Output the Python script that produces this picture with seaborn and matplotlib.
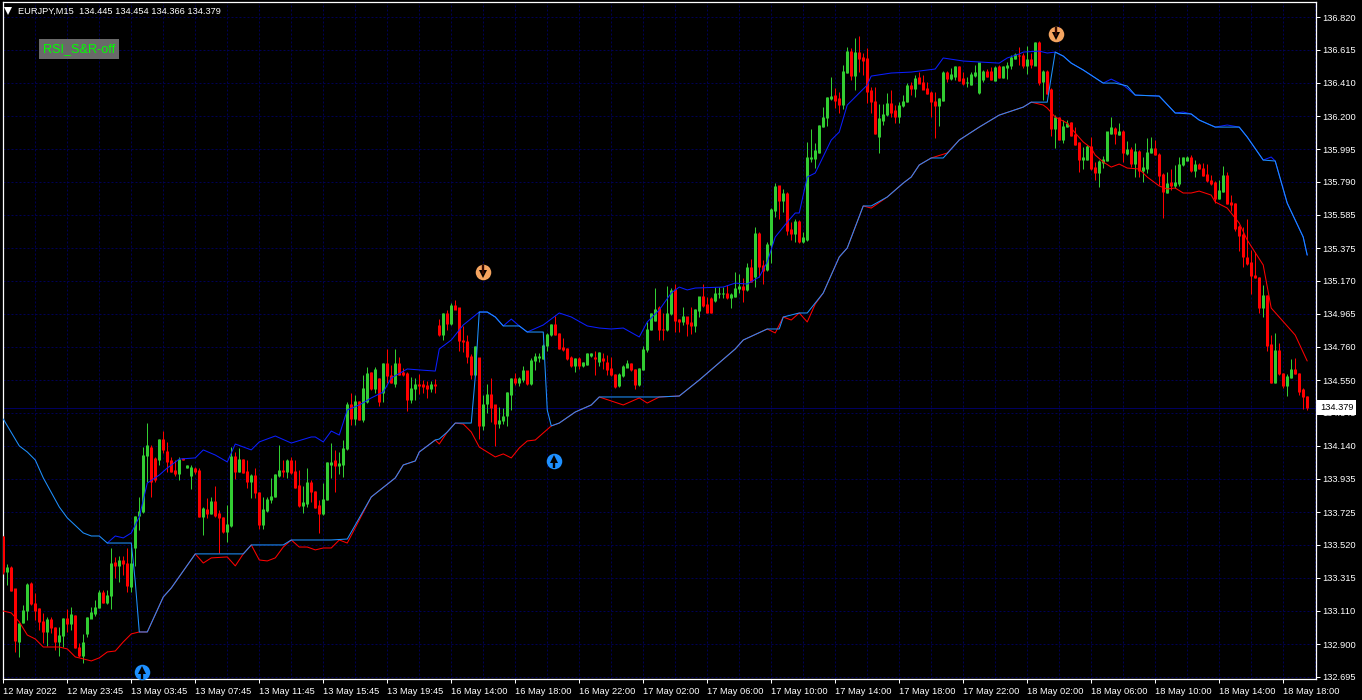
import numpy as np
import pandas as pd
import matplotlib
matplotlib.use('Agg')
import matplotlib.pyplot as plt
import seaborn as sns

# OHLC of the M15 bars
opens = [133.576,133.353,133.382,133.245,132.916,133.034,133.109,133.276,133.155,133.120,133.041,132.978,133.055,133.005,132.916,132.953,133.061,133.026,133.082,132.880,
132.826,132.964,133.061,133.093,133.130,133.220,133.159,133.203,133.409,133.391,133.426,133.405,133.263,133.503,133.701,133.732,134.076,134.132,134.061,134.051,
134.180,134.107,134.045,133.988,133.968,134.059,134.003,133.951,133.999,133.988,133.697,133.739,133.718,133.791,133.714,133.693,133.603,133.639,134.076,133.982,
134.057,133.982,133.916,133.957,133.851,133.645,133.734,133.801,133.822,133.957,133.988,133.978,134.045,133.978,133.889,133.766,133.780,133.911,133.857,133.768,
133.714,133.805,134.020,134.045,134.016,134.020,134.124,134.395,134.312,134.416,134.306,134.416,134.601,134.499,134.558,134.474,134.656,134.577,134.531,134.656,
134.595,134.593,134.427,134.495,134.524,134.520,134.514,134.495,134.524,134.895,134.833,134.968,134.906,135.016,135.004,134.801,134.795,134.697,134.583,134.691,
134.266,134.402,134.458,134.395,134.277,134.295,134.326,134.458,134.562,134.537,134.552,134.608,134.531,134.672,134.693,134.687,134.764,134.833,134.901,134.839,
134.754,134.747,134.693,134.639,134.685,134.639,134.649,134.701,134.693,134.664,134.683,134.662,134.620,134.587,134.514,134.577,134.631,134.656,134.614,134.520,
134.618,134.739,134.864,134.926,135.004,134.870,134.864,134.964,135.114,134.931,134.916,134.947,134.910,134.889,134.985,135.072,135.026,135.058,135.051,135.091,
135.091,135.095,135.068,135.076,135.122,135.135,135.114,135.253,135.197,135.470,135.264,135.239,135.395,135.608,135.764,135.676,135.716,135.489,135.468,135.541,
135.416,135.431,135.935,135.933,135.972,136.135,136.191,136.310,136.329,136.308,136.276,136.476,136.606,136.454,136.601,136.568,136.558,136.358,136.295,136.076,
136.176,136.208,136.281,136.233,136.201,136.264,136.291,136.395,136.376,136.443,136.410,136.374,136.351,136.295,136.268,136.301,136.472,136.437,136.451,136.510,
136.433,136.410,136.401,136.454,136.347,136.430,136.482,136.478,136.426,136.509,136.443,136.505,136.514,136.561,136.582,136.582,136.520,136.557,136.520,136.659,
136.416,136.478,136.370,136.120,136.193,136.057,136.134,136.161,136.088,136.034,135.930,135.930,136.009,135.878,135.847,135.909,135.926,136.093,136.124,136.088,
136.107,135.968,135.993,135.905,135.982,135.863,135.870,135.972,135.999,135.963,135.838,135.724,135.786,135.765,135.780,135.895,135.926,135.945,135.859,135.901,
135.874,135.838,135.801,135.784,135.686,135.732,135.828,135.661,135.653,135.509,135.463,135.318,135.286,135.207,135.193,135.005,135.082,134.770,134.534,134.738,
134.593,134.516,134.566,134.618,134.593,134.493,134.445]
highs = [133.576,133.399,133.391,133.245,133.030,133.145,133.280,133.286,133.218,133.124,133.093,133.072,133.072,133.009,133.009,133.061,133.118,133.130,133.082,132.905,
132.961,133.072,133.130,133.176,133.238,133.238,133.238,133.499,133.447,133.453,133.453,133.499,133.509,133.701,133.818,134.134,134.280,134.145,134.072,134.182,
134.232,134.166,134.072,134.051,134.072,134.063,134.018,134.020,134.009,133.999,133.759,133.811,133.822,133.889,133.739,133.693,133.770,134.134,134.103,134.124,
134.057,134.051,133.963,133.999,133.853,133.822,133.822,133.936,133.963,134.145,134.051,134.055,134.068,134.051,133.988,133.889,134.003,133.926,133.857,133.801,
133.905,134.041,134.155,134.114,134.103,134.176,134.416,134.468,134.458,134.422,134.583,134.631,134.604,134.631,134.562,134.656,134.745,134.645,134.743,134.693,
134.624,134.604,134.572,134.562,134.589,134.552,134.547,134.547,134.556,134.933,134.968,134.989,135.035,135.052,135.004,134.889,134.833,134.712,134.764,134.691,
134.458,134.524,134.562,134.395,134.385,134.379,134.479,134.562,134.593,134.568,134.639,134.608,134.687,134.718,134.722,134.774,134.843,134.901,134.954,134.843,
134.812,134.754,134.701,134.687,134.697,134.666,134.718,134.722,134.733,134.729,134.718,134.708,134.697,134.587,134.593,134.645,134.676,134.660,134.618,134.627,
134.764,134.916,134.968,135.124,135.014,134.968,135.139,135.124,135.151,134.931,135.010,134.947,135.010,134.993,135.072,135.151,135.072,135.072,135.135,135.131,
135.131,135.145,135.093,135.228,135.214,135.187,135.281,135.306,135.510,135.478,135.301,135.416,135.624,135.781,135.764,135.743,135.729,135.541,135.558,135.551,
135.479,136.041,136.120,136.031,136.145,136.256,136.322,136.443,136.374,136.354,136.520,136.631,136.624,136.687,136.701,136.593,136.624,136.385,136.381,136.276,
136.276,136.343,136.364,136.270,136.291,136.333,136.410,136.416,136.458,136.479,136.458,136.416,136.358,136.354,136.316,136.485,136.485,136.499,136.514,136.514,
136.479,136.447,136.479,136.520,136.533,136.489,136.493,136.509,136.514,136.520,136.514,136.541,136.582,136.593,136.634,136.593,136.639,136.597,136.666,136.670,
136.489,136.489,136.374,136.207,136.197,136.176,136.176,136.166,136.134,136.041,136.009,136.020,136.072,135.916,135.926,135.951,136.103,136.197,136.134,136.155,
136.114,136.047,136.009,136.034,135.989,135.947,136.061,136.068,136.051,135.968,135.842,135.853,135.870,135.895,135.943,135.947,135.951,135.957,135.926,135.909,
135.905,135.901,135.832,135.797,135.801,135.889,135.853,135.707,135.655,135.520,135.505,135.557,135.364,135.353,135.197,135.145,135.082,134.832,134.847,134.784,
134.597,134.589,134.682,134.686,134.593,134.499,134.454]
lows = [133.340,133.270,133.234,132.853,132.822,133.030,133.051,133.145,133.051,132.988,132.905,132.888,132.968,132.864,132.826,132.884,132.978,132.988,132.878,132.818,
132.784,132.947,133.061,133.076,133.124,133.155,133.151,133.118,133.311,133.291,133.332,133.228,133.228,133.391,133.614,133.718,133.916,133.822,133.916,134.020,
134.093,133.978,133.978,133.951,133.926,134.051,134.000,133.870,133.963,133.697,133.582,133.686,133.714,133.697,133.472,133.597,133.541,133.634,133.930,133.978,
133.972,133.874,133.811,133.811,133.618,133.618,133.728,133.780,133.818,133.943,133.947,133.936,133.963,133.874,133.759,133.722,133.755,133.791,133.749,133.597,
133.707,133.801,133.936,133.853,133.963,133.943,134.114,134.270,134.270,134.301,134.291,134.406,134.489,134.468,134.389,134.416,134.531,134.531,134.510,134.583,
134.577,134.358,134.410,134.427,134.464,134.468,134.441,134.479,134.472,134.827,134.801,134.864,134.895,134.993,134.733,134.729,134.660,134.556,134.577,134.183,
134.239,134.343,134.291,134.141,134.249,134.274,134.266,134.364,134.520,134.516,134.541,134.520,134.520,134.614,134.666,134.683,134.733,134.827,134.833,134.743,
134.735,134.677,134.635,134.604,134.618,134.635,134.645,134.697,134.583,134.639,134.618,134.583,134.577,134.504,134.510,134.572,134.631,134.610,134.493,134.516,
134.614,134.729,134.864,134.920,134.801,134.801,134.860,134.958,134.854,134.854,134.895,134.826,134.839,134.854,134.947,135.010,134.972,134.972,135.041,135.062,
135.062,135.060,135.004,135.072,135.093,135.041,135.110,135.166,135.135,135.197,135.151,135.235,135.285,135.572,135.558,135.604,135.458,135.426,135.416,135.410,
135.410,135.422,135.916,135.874,135.968,136.135,136.141,136.301,136.249,136.218,136.245,136.472,136.426,136.364,136.479,136.458,136.281,136.222,136.089,135.972,
136.145,136.201,136.193,136.156,136.156,136.260,136.287,136.333,136.322,136.406,136.368,136.339,136.197,136.066,136.139,136.297,136.416,136.426,136.426,136.422,
136.395,136.381,136.395,136.447,136.340,136.416,136.447,136.426,136.422,136.439,136.436,136.430,136.493,136.555,136.520,136.503,136.463,136.499,136.520,136.395,
136.301,136.339,136.078,136.003,136.051,136.030,136.130,136.076,136.020,135.853,135.870,135.926,135.864,135.801,135.759,135.874,135.922,136.088,136.026,136.082,
135.916,135.957,135.884,135.822,135.822,135.786,135.843,135.968,135.957,135.770,135.566,135.718,135.739,135.749,135.765,135.891,135.920,135.849,135.818,135.868,
135.828,135.791,135.770,135.659,135.682,135.728,135.651,135.609,135.484,135.359,135.255,135.270,135.089,135.186,134.972,134.947,134.734,134.530,134.530,134.582,
134.503,134.451,134.561,134.589,134.457,134.368,134.366]
closes = [133.353,133.378,133.234,132.922,133.030,133.113,133.270,133.151,133.113,133.041,132.978,133.057,133.003,132.916,132.957,133.061,133.026,133.086,132.878,132.826,
132.911,133.066,133.099,133.132,133.220,133.161,133.205,133.407,133.391,133.426,133.405,133.266,133.405,133.701,133.732,134.082,134.139,133.916,133.932,134.180,
134.114,134.041,133.982,133.968,134.055,134.051,134.018,134.003,133.978,133.697,133.745,133.718,133.791,133.707,133.693,133.603,133.645,134.076,133.978,134.057,
133.972,133.916,133.957,133.847,133.647,133.739,133.805,133.826,133.963,133.988,133.978,134.045,133.972,133.878,133.766,133.788,133.911,133.853,133.755,133.714,
133.807,134.034,134.034,134.016,134.030,134.124,134.395,134.312,134.416,134.306,134.499,134.593,134.499,134.614,134.416,134.656,134.577,134.535,134.656,134.587,
134.583,134.431,134.499,134.526,134.516,134.510,134.497,134.524,134.518,134.833,134.968,134.906,135.016,134.993,134.795,134.789,134.697,134.583,134.760,134.266,
134.399,134.458,134.381,134.277,134.301,134.326,134.472,134.562,134.537,134.558,134.608,134.531,134.676,134.697,134.697,134.766,134.837,134.901,134.833,134.749,
134.743,134.687,134.639,134.685,134.639,134.662,134.714,134.716,134.687,134.722,134.672,134.618,134.583,134.510,134.587,134.635,134.656,134.614,134.520,134.622,
134.739,134.870,134.964,134.995,134.864,134.864,134.964,135.110,134.920,134.916,134.947,134.906,134.889,134.989,135.072,135.018,134.976,134.976,135.093,135.095,
135.093,135.064,135.083,135.124,135.135,135.114,135.253,135.166,135.470,135.260,135.235,135.401,135.620,135.760,135.676,135.716,135.483,135.468,135.541,135.416,
135.439,135.939,135.939,135.983,136.143,136.193,136.316,136.326,136.297,136.276,136.481,136.606,136.454,136.601,136.562,136.551,136.354,136.291,136.089,136.183,
136.214,136.281,136.226,136.201,136.270,136.295,136.395,136.376,136.437,136.406,136.370,136.343,136.289,136.264,136.310,136.476,136.437,136.458,136.508,136.426,
136.406,136.414,136.458,136.472,136.533,136.478,136.451,136.430,136.505,136.443,136.509,136.516,136.568,136.586,136.578,136.520,136.557,136.524,136.659,136.411,
136.478,136.343,136.120,136.193,136.057,136.134,136.155,136.078,136.026,135.930,135.943,136.009,135.870,135.847,135.916,135.930,136.103,136.128,136.093,136.103,
135.972,135.993,135.905,135.982,135.863,135.878,135.972,135.999,135.961,135.832,135.728,135.780,135.765,135.784,135.901,135.941,135.945,135.863,135.901,135.870,
135.832,135.797,135.780,135.686,135.734,135.828,135.655,135.645,135.495,135.457,135.322,135.280,135.203,135.191,135.005,135.082,134.766,134.534,134.738,134.589,
134.516,134.572,134.614,134.593,134.482,134.447,134.379]

# indicator lines, bar number and price of each visible vertex
trail_bars = [0,4,6,8,10,14,16,20,22,24,26,32,33,34,36,40,42,48,60,62,70,72,82,86,92,98,100,103,104,108,109,111,113,117,118,119,121,123,125,129,131,135,136,137,139,143,147,149,164,169,174,183,185,191,194,195,199,201,205,209,211,215,217,221,225,227,229,232,235,239,244,249,255,257,261,262,263,265,267,270,275,278,281,283,289,293,297,299,303,309,311,315,318,321,325,326]
trail_vals = [134.307,134.139,134.101,134.051,133.939,133.757,133.689,133.595,133.576,133.576,133.532,133.532,133.288,132.976,132.976,133.195,133.251,133.464,133.464,133.520,133.520,133.551,133.551,133.557,133.820,133.939,134.020,134.045,134.101,134.176,134.182,134.226,134.282,134.282,134.570,134.976,134.976,134.945,134.889,134.889,134.851,134.851,134.363,134.264,134.282,134.351,134.395,134.445,134.445,134.451,134.551,134.745,134.801,134.870,134.870,134.945,134.970,134.970,135.095,135.320,135.376,135.639,135.639,135.695,135.782,135.820,135.895,135.939,135.939,136.051,136.132,136.207,136.257,136.288,136.288,136.445,136.601,136.576,136.532,136.489,136.407,136.407,136.389,136.332,136.326,136.220,136.214,136.176,136.132,136.132,136.070,135.926,135.920,135.657,135.445,135.332]

upper_bars = [26,28,30,32,34,35,36,39,41,44,48,50,53,56,58,62,64,68,72,77,78,80,82,84,86,89,92,95,97,101,104,108,109,112,115,119,121,123,125,127,129,131,135,139,142,146,149,152,155,159,161,164,167,169,171,173,180,183,186,189,191,193,196,198,199,201,203,207,209,211,216,217,222,227,233,235,240,244,249,251,254,255,259,261,263,265,267,270,275,277,280,283,289,293,295,297,299,303,306,309,311,315,317,318,321,325,326]
upper_vals = [133.532,133.576,133.564,133.595,133.695,133.801,133.907,133.957,134.001,134.057,134.064,134.114,134.082,134.039,134.151,134.114,134.164,134.201,134.157,134.195,134.195,134.164,134.232,134.207,134.364,134.395,134.439,134.476,134.564,134.620,134.614,134.607,134.745,134.801,134.895,134.976,134.976,134.945,134.889,134.932,134.889,134.851,134.895,134.970,134.945,134.889,134.876,134.870,134.876,134.820,134.914,134.989,135.095,135.132,135.114,135.126,135.132,135.157,135.151,135.195,135.289,135.445,135.538,135.595,135.595,135.820,135.845,136.051,136.101,136.270,136.395,136.451,136.470,136.476,136.495,136.564,136.545,136.539,136.532,136.564,136.589,136.601,136.607,136.595,136.601,136.576,136.532,136.489,136.407,136.432,136.395,136.332,136.326,136.220,136.226,136.214,136.176,136.132,136.145,136.132,136.070,135.926,135.945,135.920,135.657,135.445,135.332]

lower_bars = [0,2,4,6,8,10,14,16,18,22,24,26,28,30,32,34,36,40,42,48,50,52,56,58,60,62,64,66,68,70,72,74,76,78,80,82,84,86,92,98,100,103,104,108,109,111,113,115,117,119,123,125,127,129,131,133,137,139,143,147,149,152,155,159,161,164,169,174,183,185,191,193,195,197,199,201,203,205,209,211,215,217,221,225,227,229,232,236,239,244,249,255,257,260,261,263,266,268,270,272,273,275,277,279,281,284,286,289,291,293,295,297,299,302,303,306,309,311,315,317,323,326]
lower_vals = [133.107,133.095,133.039,132.957,132.932,132.882,132.882,132.870,132.820,132.795,132.814,132.851,132.857,132.914,132.964,132.976,132.976,133.195,133.251,133.464,133.407,133.439,133.445,133.389,133.464,133.520,133.426,133.420,133.439,133.507,133.551,133.507,133.507,133.489,133.501,133.501,133.551,133.532,133.820,133.939,134.020,134.045,134.101,134.176,134.151,134.226,134.282,134.276,134.226,134.132,134.070,134.089,134.064,134.126,134.170,134.176,134.264,134.282,134.351,134.395,134.445,134.420,134.395,134.439,134.407,134.445,134.451,134.551,134.745,134.801,134.870,134.845,134.945,134.926,134.970,134.914,135.026,135.095,135.320,135.376,135.639,135.626,135.695,135.782,135.820,135.895,135.939,135.970,136.051,136.132,136.207,136.257,136.288,136.270,136.251,136.195,136.157,136.095,136.039,136.001,135.957,135.914,135.882,135.901,135.876,135.870,135.820,135.764,135.745,135.751,135.720,135.720,135.732,135.707,135.664,135.626,135.532,135.426,135.270,135.001,134.832,134.670]

# signal icons
sell_bars = [120, 263.2]
sell_vals = [135.226, 136.714]
buy_bars = [137.7, 34.7]
buy_vals = [134.045, 132.726]

price_ticks = [136.820,136.615,136.410,136.200,135.995,135.790,135.585,135.375,135.170,134.965,134.760,134.550,134.345,134.140,133.935,133.725,133.520,133.315,133.110,132.900,132.695]
time_labels = ['12 May 2022','12 May 23:45','13 May 03:45','13 May 07:45','13 May 11:45','13 May 15:45','13 May 19:45',
               '16 May 14:00','16 May 18:00','16 May 22:00','17 May 02:00','17 May 06:00','17 May 10:00','17 May 14:00','17 May 18:00','17 May 22:00',
               '18 May 02:00','18 May 06:00','18 May 10:00','18 May 14:00','18 May 18:00']
last_price = 134.379

GREEN = '#32cd32'
RED = '#ff0000'
GRID = '#000055'
FONT = 'Liberation Sans'

sns.set_style('dark', {'axes.facecolor': 'black', 'figure.facecolor': 'black', 'text.color': 'white',
                       'xtick.color': 'white', 'ytick.color': 'white', 'axes.edgecolor': 'white'})
plt.rcParams['font.family'] = [FONT, 'DejaVu Sans']

df = pd.DataFrame({'open': opens, 'high': highs, 'low': lows, 'close': closes})
df['bar'] = np.arange(len(df))
df['color'] = np.where(df['close'] >= df['open'], GREEN, RED)
df['top'] = df[['open', 'close']].max(axis=1)
df['bottom'] = df[['open', 'close']].min(axis=1)

fig = plt.figure(figsize=(13.62, 7.0), dpi=100)
ax = fig.add_axes([2.5 / 1362, 21 / 700, 1313.5 / 1362, 677 / 700])

# candles, a doji still gets a body of one pixel or so
wicks = ax.vlines(df['bar'], df['low'], df['high'], colors=df['color'], linewidth=0.72, zorder=3)
wicks.set_snap(True)
bodies = ax.vlines(df['bar'], df['bottom'] - 0.003, df['top'] + 0.003, colors=df['color'], linewidth=2.16, zorder=4)
bodies.set_capstyle('butt')
bodies.set_snap(True)

# indicator lines
sns.lineplot(x=lower_bars, y=lower_vals, color='#ff0000', linewidth=0.75, ax=ax, zorder=5)
sns.lineplot(x=upper_bars, y=upper_vals, color='#0a1eff', linewidth=0.75, ax=ax, zorder=6)
sns.lineplot(x=trail_bars, y=trail_vals, color='#1e90ff', linewidth=0.75, ax=ax, zorder=7)

# signal icons
sns.scatterplot(x=sell_bars, y=sell_vals, color='#f4a460', s=125, linewidth=0, ax=ax, zorder=8, clip_on=False)
sns.scatterplot(x=buy_bars, y=buy_vals, color='#1e90ff', s=125, linewidth=0, ax=ax, zorder=8, clip_on=False)
for x, y in zip(sell_bars, sell_vals):
    ax.plot([x], [y - 0.014], marker='v', ms=5.5, color='black', zorder=9, markeredgewidth=0)
    ax.vlines(x, y - 0.01, y + 0.045, color='#3a0a00', linewidth=1.7, zorder=10)
for x, y in zip(buy_bars, buy_vals):
    ax.plot([x], [y + 0.014], marker='^', ms=5.5, color='black', zorder=9, markeredgewidth=0, clip_on=False)
    ax.vlines(x, y - 0.045, y + 0.01, color='black', linewidth=1.7, zorder=10)

# grid and current price line
grid_bars = np.arange(0, 329, 8)
vgrid = ax.vlines(grid_bars, 132.682, 136.914, colors=GRID, linewidth=0.72, linestyles=(0, (2, 2)), zorder=1)
hgrid = ax.hlines(price_ticks, -0.2, 328.2, colors=GRID, linewidth=0.72, linestyles=(0, (2, 2)), zorder=1)
vgrid.set_snap(True)
hgrid.set_snap(True)
ax.axhline(last_price, color='#00005f', linewidth=0.72, zorder=2)

ax.set_xlim(-0.2, 328.2)
ax.set_ylim(132.682, 136.914)
ax.set_xlabel('')
ax.set_ylabel('')
ax.grid(False)

ax.yaxis.tick_right()
ax.set_yticks(price_ticks)
ax.set_yticklabels(['%.3f' % p for p in price_ticks], fontsize=6.7, color='white')
ax.set_xticks(np.arange(0, 321, 16))
ax.set_xticklabels(time_labels, fontsize=6.7, color='white', ha='left')
ax.tick_params(axis='y', length=3, width=0.72, color='white', pad=1.5, right=True)
ax.tick_params(axis='x', length=3, width=0.72, color='white', pad=2.5, bottom=True)
for s in ax.spines.values():
    s.set_visible(True)
    s.set_color('white')
    s.set_linewidth(0.9)

# header, button, last price tag
ax.plot([1.1], [136.855], marker='v', ms=6, color='white', markeredgewidth=0, zorder=10)
ax.text(3.7, 136.855, 'EURJPY,M15  134.445 134.454 134.366 134.379', fontsize=6.7, color='white',
        va='center', ha='left', zorder=10)
ax.text(10.0, 136.62, 'RSI_S&R-off', fontsize=9.1, color='#00ff00', va='center', ha='left', zorder=10,
        bbox=dict(boxstyle='square,pad=0.31', facecolor='#696969', edgecolor='none'))
ax.text(1.003, last_price, '%.3f' % last_price, transform=ax.get_yaxis_transform(), fontsize=6.7, color='black',
        va='center', ha='left', zorder=20, clip_on=False,
        bbox=dict(boxstyle='square,pad=0.3', facecolor='white', edgecolor='none'))

fig.savefig('out.png', dpi=100, facecolor='black')
